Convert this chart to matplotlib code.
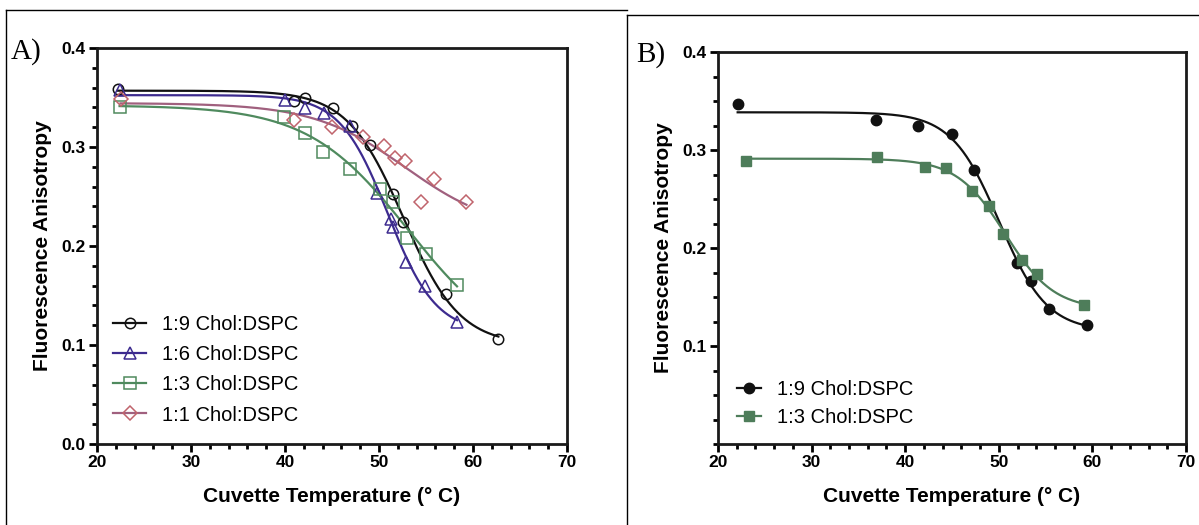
import numpy as np
import matplotlib
matplotlib.use("Agg")
import matplotlib.pyplot as plt
from matplotlib.lines import Line2D
from matplotlib.ticker import MultipleLocator

plt.rcParams['font.family'] = ['Liberation Sans', 'DejaVu Sans']

# ---- panel A: four cholesterol ratios ----
a_labels = ["1:9 Chol:DSPC", "1:6 Chol:DSPC", "1:3 Chol:DSPC", "1:1 Chol:DSPC"]

a19_temp = [22.2, 41.0, 42.1, 45.1, 47.1, 49.0, 51.5, 52.5, 57.1, 62.7]
a19_aniso = [0.359, 0.346, 0.350, 0.339, 0.321, 0.302, 0.253, 0.224, 0.152, 0.106]

a16_temp = [22.4, 40.0, 42.1, 44.1, 46.9, 49.8, 51.3, 51.5, 52.9, 54.9, 58.3]
a16_aniso = [0.358, 0.347, 0.339, 0.334, 0.321, 0.254, 0.227, 0.219, 0.184, 0.160, 0.123]

a13_temp = [22.4, 39.9, 42.1, 44.0, 46.9, 50.1, 51.5, 53.0, 55.0, 58.3]
a13_aniso = [0.340, 0.330, 0.314, 0.295, 0.278, 0.258, 0.244, 0.208, 0.192, 0.161]

a11_temp = [22.5, 41.0, 45.0, 48.3, 50.5, 51.7, 52.8, 54.5, 55.9, 59.3]
a11_aniso = [0.348, 0.327, 0.320, 0.310, 0.301, 0.289, 0.286, 0.244, 0.268, 0.244]

# ---- panel B: two ratios ----
b_labels = ["1:9 Chol:DSPC", "1:3 Chol:DSPC"]

b19_temp = [22.1, 36.9, 41.4, 45.0, 47.4, 51.9, 53.4, 55.4, 59.4]
b19_aniso = [0.347, 0.331, 0.325, 0.316, 0.280, 0.185, 0.166, 0.138, 0.121]

b13_temp = [23.0, 37.0, 42.1, 44.4, 47.1, 49.0, 50.4, 52.5, 54.1, 59.1]
b13_aniso = [0.289, 0.293, 0.283, 0.282, 0.258, 0.243, 0.214, 0.188, 0.173, 0.142]

black = "#111111"
indigo = "#3d2b8f"
green = "#4f8a5e"
mauve_line = "#a0607e"
rose = "#c0646c"
green_b = "#4e7d5a"


def sigmoid_fit(x, y):
    # Boltzmann fit (bottom + (top-bottom)/(1+exp((x-x50)/k))) by grid search,
    # top/bottom solved by linear regression for each (x50, k)
    x = np.asarray(x, float)
    y = np.asarray(y, float)
    x50 = np.arange(38, 70, 0.05)[:, None, None]
    k = np.arange(0.4, 12, 0.05)[None, :, None]
    s = 1.0 / (1.0 + np.exp((x[None, None, :] - x50) / k))
    sm = s.mean(-1, keepdims=True)
    ym = y.mean()
    c = ((s - sm) * (y - ym)).sum(-1, keepdims=True) / (((s - sm) ** 2).sum(-1, keepdims=True) + 1e-12)
    b = ym - c * sm
    err = ((b + c * s - y) ** 2).sum(-1)
    i, j = np.unravel_index(np.argmin(err), err.shape)
    bot, amp = b[i, j, 0], c[i, j, 0]
    xx = np.linspace(x.min(), x.max(), 300)
    return xx, bot + amp / (1.0 + np.exp((xx - x50[i, 0, 0]) / k[0, j, 0]))


def style_axes(ax, ymin_label):
    ax.set_xlim(20, 70)
    ax.set_ylim(0, 0.4)
    ax.xaxis.set_major_locator(MultipleLocator(10))
    ax.xaxis.set_minor_locator(MultipleLocator(2))
    yt = [t for t in [0.0, 0.1, 0.2, 0.3, 0.4] if t >= ymin_label]
    ax.set_yticks(yt)
    ax.set_yticklabels(["%.1f" % t for t in yt])
    for sp in ax.spines.values():
        sp.set_linewidth(2.0)
        sp.set_color("#1a1a1a")
    ax.tick_params(which="major", direction="out", length=6, width=2, labelsize=12.5, pad=2)
    ax.tick_params(which="minor", direction="out", length=3.5, width=2)
    for lab in ax.get_xticklabels() + ax.get_yticklabels():
        lab.set_fontweight("bold")
    ax.set_xlabel("Cuvette Temperature (\u00b0 C)", fontsize=15, fontweight="bold", labelpad=12)
    ax.set_ylabel("Fluorescence Anisotropy", fontsize=15, fontweight="bold", labelpad=7)


fig = plt.figure(figsize=(11.99, 5.25), dpi=100)

# panel frames (table cell borders)
fig.add_artist(Line2D([6 / 1199, 6 / 1199], [0, 1 - 10 / 525], color="black", lw=1.0))
fig.add_artist(Line2D([6 / 1199, 627 / 1199], [1 - 10 / 525, 1 - 10 / 525], color="black", lw=1.0))
fig.add_artist(Line2D([627 / 1199, 627 / 1199], [0, 1 - 15 / 525], color="black", lw=1.0))
fig.add_artist(Line2D([627 / 1199, 1], [1 - 15 / 525, 1 - 15 / 525], color="black", lw=1.0))

# ---------------- panel A ----------------
axA = fig.add_axes([97 / 1199, 81 / 525, 470 / 1199, 396 / 525])
series_a = [
    (a19_temp, a19_aniso, black, black, "o", 7.5),
    (a16_temp, a16_aniso, indigo, indigo, "^", 8.5),
    (a13_temp, a13_aniso, green, green, "s", 8),
    (a11_temp, a11_aniso, mauve_line, rose, "D", 7),
]
handles = []
for (t, r, lc, mc, m, ms), lab in zip(series_a, a_labels):
    xx, yy = sigmoid_fit(t, r)
    axA.plot(xx, yy, color=lc, lw=1.6, zorder=2)
    axA.plot(t, r, ls="none", marker=m, ms=ms, mfc="none", mec=mc, mew=1.1, zorder=3)
    handles.append(Line2D([], [], color=lc, lw=1.6, marker=m, ms=ms, mfc="none", mec=mc, mew=1.1))
style_axes(axA, 0.0)
axA.yaxis.set_minor_locator(MultipleLocator(0.02))
axA.legend(handles, a_labels, loc="upper left", bbox_to_anchor=(0.035, 0.325), frameon=False,
           fontsize=14.5, handlelength=1.6, handletextpad=0.8, labelspacing=0.55,
           borderaxespad=0, borderpad=0)
fig.text(11 / 1199, 1 - 52 / 525, "A)", fontsize=21, family="Liberation Serif", va="center", ha="left")

# ---------------- panel B ----------------
axB = fig.add_axes([718 / 1199, 81 / 525, 468 / 1199, 392 / 525])
series_b = [
    (b19_temp, b19_aniso, black, "o", 7.5),
    (b13_temp, b13_aniso, green_b, "s", 7.5),
]
handles = []
for (t, r, c, m, ms), lab in zip(series_b, b_labels):
    xx, yy = sigmoid_fit(t, r)
    axB.plot(xx, yy, color=c, lw=1.6, zorder=2)
    axB.plot(t, r, ls="none", marker=m, ms=ms, color=c, zorder=3)
    handles.append(Line2D([], [], color=c, lw=1.6, marker=m, ms=ms))
style_axes(axB, 0.1)
axB.yaxis.set_minor_locator(MultipleLocator(0.025))
axB.legend(handles, b_labels, loc="upper left", bbox_to_anchor=(0.04, 0.163), frameon=False,
           fontsize=14.5, handlelength=1.2, handletextpad=0.8, labelspacing=0.45,
           borderaxespad=0, borderpad=0)
fig.text(636 / 1199, 1 - 55 / 525, "B)", fontsize=21, family="Liberation Serif", va="center", ha="left")

fig.savefig("out.png", dpi=100)
